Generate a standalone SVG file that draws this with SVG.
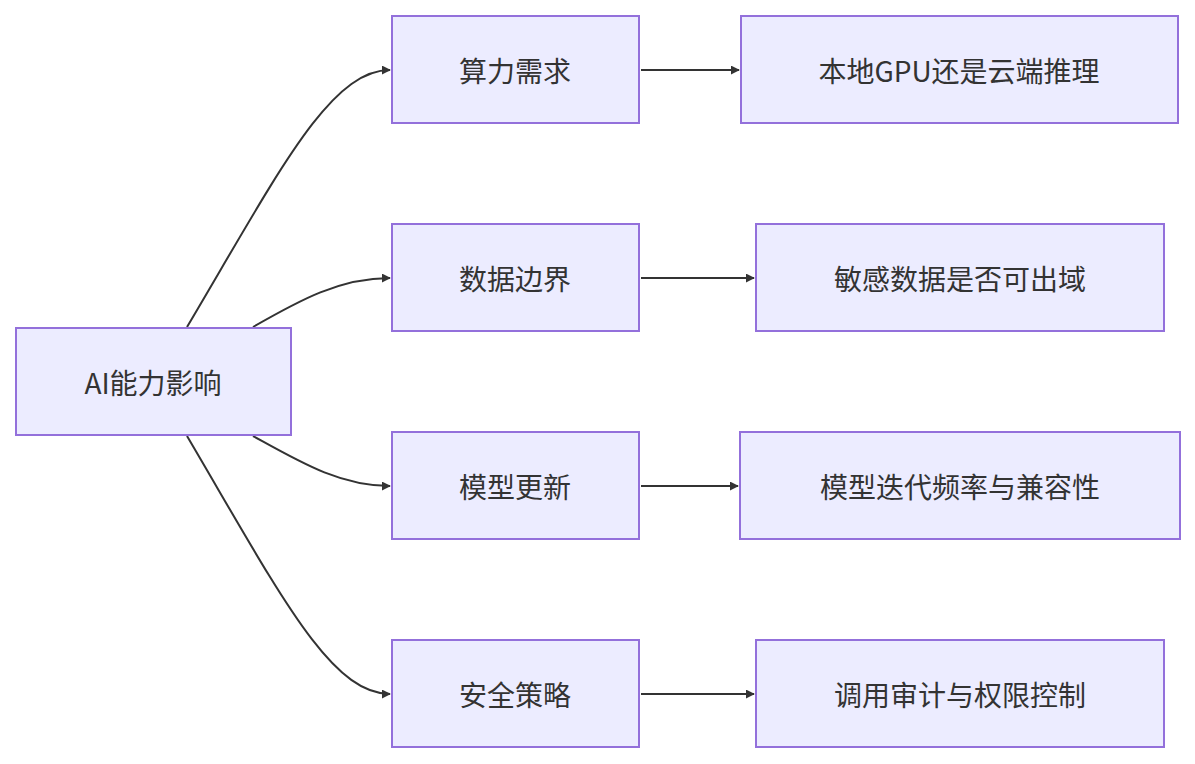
<svg xmlns="http://www.w3.org/2000/svg" width="1195" height="764" viewBox="0 0 1195 764">
<style>
.n rect{fill:#ECECFF;stroke:#9370DB;stroke-width:2}
.n text{font-family:"Noto Sans CJK SC","Liberation Sans",sans-serif;font-size:28px;fill:#333;text-anchor:middle;dominant-baseline:central}
.e path{fill:none;stroke:#333;stroke-width:2;marker-end:url(#a)}
</style>
<defs><marker id="a" viewBox="0 0 10 10" refX="9" refY="5" markerWidth="9" markerHeight="9" markerUnits="userSpaceOnUse" orient="auto"><path d="M0,0L10,5L0,10z" fill="#333"/></marker></defs>
<rect width="1195" height="764" fill="#fff"/>
<g class="e">
<path d="M187,327 C280,170 330,70 390,70"/>
<path d="M253,327 C300,300 340,278 390,278"/>
<path d="M253,436 C300,462 340,486 390,486"/>
<path d="M187,436 C280,594 330,694 390,694"/>
<path d="M641,70 L739,70"/>
<path d="M641,278 L754,278"/>
<path d="M641,486 L738,486"/>
<path d="M641,694 L754,694"/>
</g>
<g id="A" class="n"><rect x="16" y="328" width="275" height="107"/><text x="153" y="382">AI能力影响</text></g>
<g id="B1" class="n"><rect x="392" y="16" width="247" height="107"/><text x="515" y="70">算力需求</text></g>
<g id="B2" class="n"><rect x="392" y="224" width="247" height="107"/><text x="515" y="278">数据边界</text></g>
<g id="B3" class="n"><rect x="392" y="432" width="247" height="107"/><text x="515" y="486">模型更新</text></g>
<g id="B4" class="n"><rect x="392" y="640" width="247" height="107"/><text x="515" y="694">安全策略</text></g>
<g id="C1" class="n"><rect x="741" y="16" width="437" height="107"/><text x="959" y="70">本地GPU还是云端推理</text></g>
<g id="C2" class="n"><rect x="756" y="224" width="408" height="107"/><text x="960" y="278">敏感数据是否可出域</text></g>
<g id="C3" class="n"><rect x="740" y="432" width="440" height="107"/><text x="960" y="486">模型迭代频率与兼容性</text></g>
<g id="C4" class="n"><rect x="756" y="640" width="408" height="107"/><text x="960" y="694">调用审计与权限控制</text></g>
</svg>
